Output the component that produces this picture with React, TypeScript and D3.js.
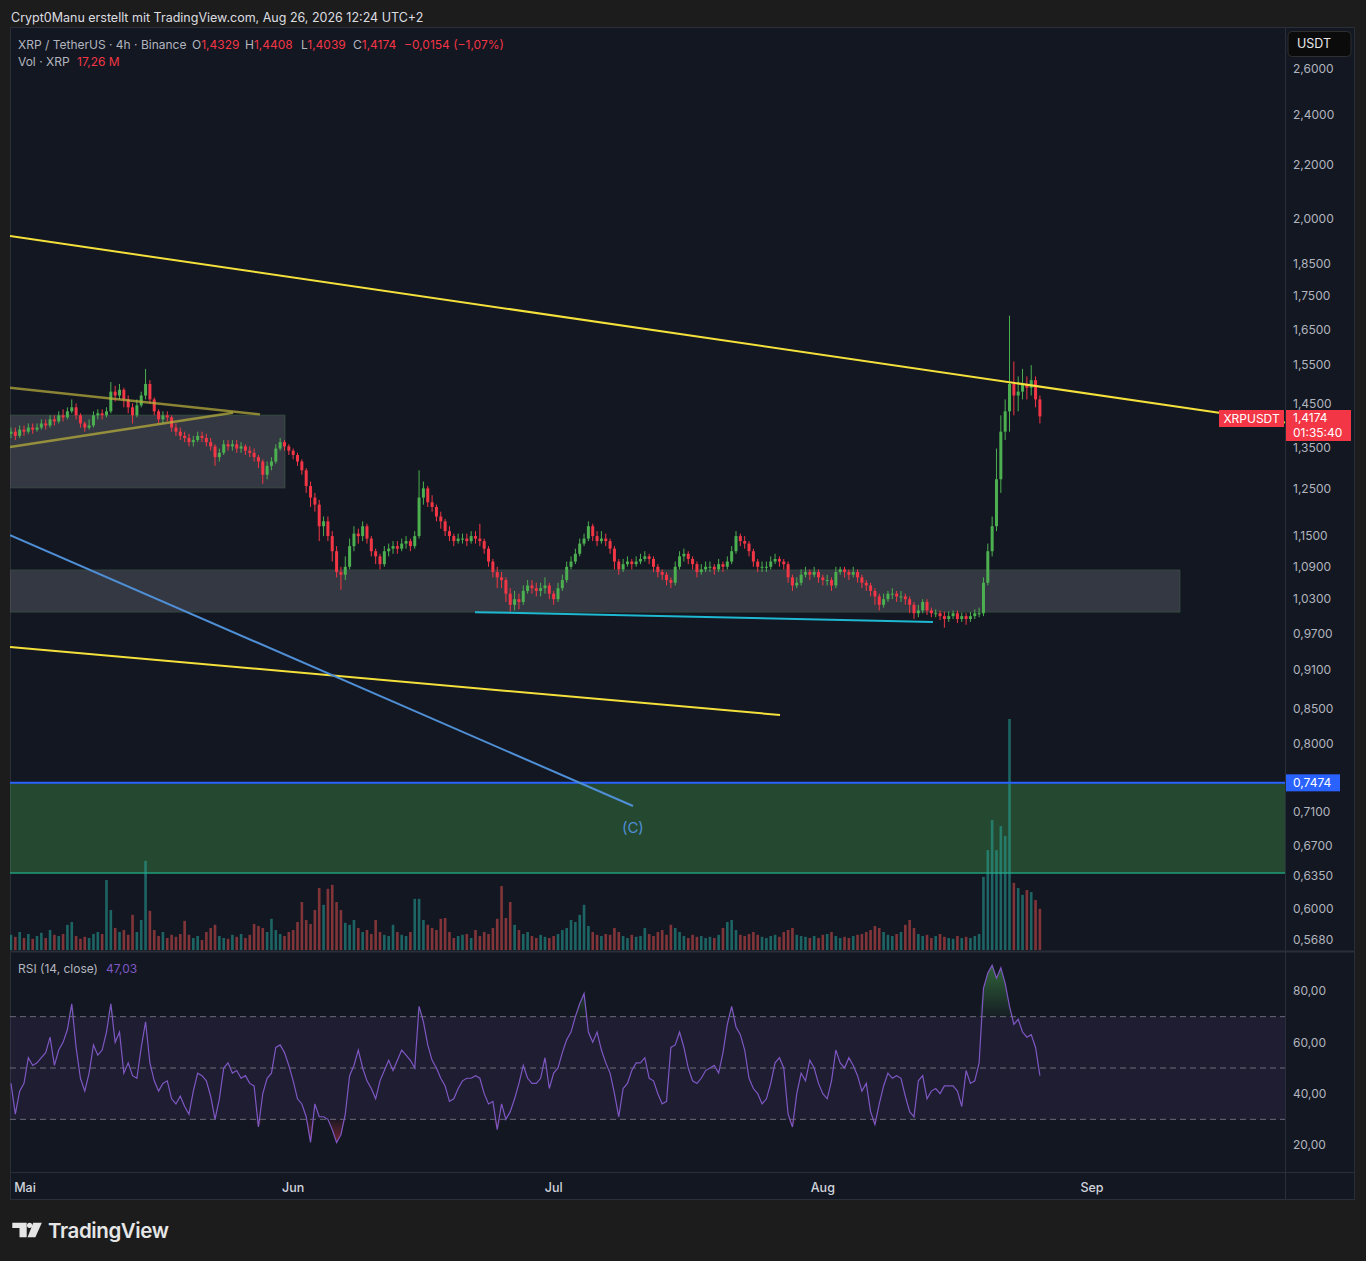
import * as d3 from "d3";
import * as React from "react";

// 12h candles (Apr 29 12:00 UTC .. Aug 26 00:00 UTC)
const closes = [
  1.38, 1.37, 1.385, 1.38, 1.39, 1.385, 1.39, 1.4, 1.395, 1.41,
  1.405, 1.42, 1.415, 1.43, 1.44, 1.42, 1.4, 1.39, 1.395, 1.42,
  1.425, 1.42, 1.43, 1.48, 1.47, 1.485, 1.46, 1.44, 1.42, 1.445,
  1.47, 1.5, 1.46, 1.43, 1.41, 1.42, 1.415, 1.39, 1.38, 1.37,
  1.365, 1.355, 1.36, 1.37, 1.365, 1.355, 1.345, 1.32, 1.33, 1.35,
  1.345, 1.35, 1.34, 1.345, 1.335, 1.33, 1.32, 1.31, 1.28, 1.3,
  1.31, 1.34, 1.355, 1.345, 1.335, 1.325, 1.31, 1.29, 1.255, 1.23,
  1.215, 1.17, 1.18, 1.15, 1.12, 1.08, 1.075, 1.09, 1.13, 1.155,
  1.15, 1.17, 1.145, 1.12, 1.11, 1.095, 1.12, 1.125, 1.13, 1.125,
  1.135, 1.14, 1.13, 1.15, 1.23, 1.25, 1.22, 1.21, 1.19, 1.18,
  1.16, 1.15, 1.14, 1.145, 1.145, 1.14, 1.15, 1.145, 1.14, 1.125,
  1.1, 1.08, 1.07, 1.065, 1.04, 1.02, 1.03, 1.025, 1.045, 1.055,
  1.05, 1.045, 1.05, 1.055, 1.04, 1.03, 1.05, 1.065, 1.09, 1.1,
  1.115, 1.135, 1.145, 1.17, 1.15, 1.14, 1.145, 1.14, 1.125, 1.1,
  1.085, 1.095, 1.1, 1.095, 1.1, 1.105, 1.11, 1.105, 1.09, 1.08,
  1.075, 1.065, 1.06, 1.09, 1.11, 1.115, 1.105, 1.095, 1.08, 1.085,
  1.09, 1.09, 1.085, 1.095, 1.09, 1.1, 1.12, 1.15, 1.14, 1.135,
  1.12, 1.1, 1.09, 1.09, 1.09, 1.1, 1.105, 1.1, 1.095, 1.07,
  1.055, 1.06, 1.075, 1.08, 1.075, 1.08, 1.07, 1.065, 1.065, 1.055,
  1.08, 1.085, 1.08, 1.075, 1.08, 1.07, 1.06, 1.055, 1.045, 1.035,
  1.02, 1.03, 1.04, 1.04, 1.035, 1.035, 1.03, 1.02, 1.005, 1.01,
  1.025, 1.01, 1.005, 1.005, 1.0, 0.995, 1.0, 1.005, 0.995, 1.0,
  0.995, 1.0, 1.005, 1.005, 1.06, 1.12, 1.17, 1.27, 1.38, 1.43,
  1.5, 1.47, 1.48, 1.5, 1.49, 1.51, 1.46, 1.4174,
];

const highs = [
  1.39, 1.39, 1.395, 1.395, 1.4, 1.4, 1.4, 1.41, 1.41, 1.42,
  1.42, 1.43, 1.435, 1.44, 1.46, 1.45, 1.425, 1.405, 1.41, 1.43,
  1.435, 1.435, 1.44, 1.505, 1.495, 1.5, 1.49, 1.47, 1.45, 1.46,
  1.48, 1.54, 1.51, 1.465, 1.435, 1.43, 1.43, 1.42, 1.4, 1.39,
  1.38, 1.375, 1.37, 1.38, 1.38, 1.375, 1.365, 1.35, 1.34, 1.36,
  1.36, 1.36, 1.36, 1.355, 1.35, 1.345, 1.34, 1.325, 1.315, 1.31,
  1.32, 1.35, 1.365, 1.36, 1.35, 1.34, 1.33, 1.315, 1.295, 1.265,
  1.24, 1.225, 1.19, 1.19, 1.16, 1.13, 1.09, 1.11, 1.145, 1.17,
  1.165, 1.18, 1.175, 1.15, 1.125, 1.115, 1.13, 1.135, 1.14, 1.14,
  1.145, 1.15, 1.145, 1.16, 1.29, 1.265, 1.255, 1.235, 1.215, 1.2,
  1.185, 1.17, 1.155, 1.155, 1.155, 1.155, 1.16, 1.16, 1.175, 1.145,
  1.13, 1.105, 1.09, 1.08, 1.07, 1.05, 1.045, 1.04, 1.055, 1.065,
  1.065, 1.06, 1.06, 1.07, 1.06, 1.045, 1.06, 1.075, 1.1, 1.11,
  1.125, 1.145, 1.155, 1.18, 1.175, 1.16, 1.16, 1.155, 1.145, 1.13,
  1.105, 1.105, 1.11, 1.105, 1.11, 1.115, 1.12, 1.115, 1.11, 1.095,
  1.085, 1.08, 1.07, 1.1, 1.12, 1.125, 1.12, 1.11, 1.1, 1.095,
  1.1, 1.1, 1.095, 1.105, 1.1, 1.11, 1.13, 1.16, 1.155, 1.15,
  1.14, 1.125, 1.105, 1.1, 1.1, 1.11, 1.115, 1.11, 1.105, 1.1,
  1.075, 1.07, 1.085, 1.09, 1.085, 1.09, 1.085, 1.075, 1.075, 1.07,
  1.09, 1.09, 1.09, 1.085, 1.09, 1.085, 1.075, 1.065, 1.06, 1.05,
  1.04, 1.04, 1.045, 1.05, 1.045, 1.045, 1.04, 1.035, 1.025, 1.02,
  1.03, 1.03, 1.015, 1.012, 1.01, 1.008, 1.008, 1.01, 1.01, 1.006,
  1.005, 1.007, 1.012, 1.015, 1.07, 1.135, 1.19, 1.34, 1.42, 1.46,
  1.69, 1.56, 1.52, 1.54, 1.52, 1.55, 1.52, 1.47,
];

const lows = [
  1.365, 1.36, 1.365, 1.37, 1.375, 1.375, 1.38, 1.385, 1.385, 1.39,
  1.395, 1.4, 1.405, 1.41, 1.425, 1.41, 1.39, 1.38, 1.385, 1.39,
  1.41, 1.41, 1.415, 1.425, 1.455, 1.46, 1.44, 1.425, 1.4, 1.415,
  1.44, 1.46, 1.45, 1.42, 1.4, 1.4, 1.405, 1.38, 1.37, 1.36,
  1.355, 1.345, 1.345, 1.355, 1.355, 1.345, 1.335, 1.3, 1.31, 1.325,
  1.335, 1.335, 1.33, 1.33, 1.325, 1.32, 1.31, 1.295, 1.26, 1.27,
  1.29, 1.305, 1.335, 1.335, 1.325, 1.315, 1.3, 1.28, 1.24, 1.21,
  1.2, 1.14, 1.15, 1.14, 1.1, 1.07, 1.047, 1.065, 1.085, 1.12,
  1.135, 1.14, 1.135, 1.11, 1.095, 1.085, 1.09, 1.11, 1.115, 1.115,
  1.12, 1.125, 1.12, 1.125, 1.145, 1.215, 1.21, 1.2, 1.18, 1.165,
  1.15, 1.14, 1.13, 1.135, 1.135, 1.13, 1.135, 1.135, 1.13, 1.115,
  1.09, 1.07, 1.05, 1.05, 1.025, 1.008, 1.01, 1.012, 1.02, 1.04,
  1.04, 1.035, 1.035, 1.04, 1.03, 1.02, 1.025, 1.045, 1.06, 1.085,
  1.095, 1.11, 1.13, 1.14, 1.14, 1.13, 1.135, 1.13, 1.115, 1.085,
  1.075, 1.08, 1.09, 1.085, 1.09, 1.095, 1.1, 1.095, 1.08, 1.07,
  1.065, 1.055, 1.05, 1.055, 1.085, 1.1, 1.095, 1.085, 1.07, 1.075,
  1.08, 1.08, 1.075, 1.08, 1.08, 1.085, 1.095, 1.115, 1.13, 1.125,
  1.11, 1.09, 1.08, 1.08, 1.08, 1.085, 1.095, 1.09, 1.085, 1.06,
  1.045, 1.05, 1.055, 1.07, 1.065, 1.07, 1.06, 1.055, 1.055, 1.045,
  1.05, 1.075, 1.07, 1.065, 1.07, 1.06, 1.05, 1.045, 1.035, 1.02,
  1.01, 1.015, 1.025, 1.03, 1.025, 1.025, 1.02, 1.005, 0.995, 0.998,
  1.005, 1.002, 0.998, 0.998, 0.993, 0.98, 0.99, 0.995, 0.988, 0.99,
  0.985, 0.99, 0.995, 0.998, 1.0, 1.055, 1.11, 1.16, 1.24, 1.36,
  1.38, 1.42, 1.43, 1.46, 1.46, 1.47, 1.44, 1.4,
];

// volume in M XRP
const volumes = [
  38, 33, 45, 30, 40, 28, 35, 43, 30, 50,
  38, 35, 40, 63, 70, 35, 28, 33, 30, 40,
  45, 40, 175, 100, 55, 45, 50, 38, 88, 45,
  75, 223, 98, 50, 35, 45, 30, 38, 33, 40,
  73, 38, 30, 35, 25, 45, 55, 63, 35, 30,
  28, 38, 33, 40, 30, 38, 65, 60, 55, 45,
  78, 50, 40, 35, 45, 50, 70, 120, 75, 65,
  100, 155, 113, 153, 163, 120, 100, 68, 63, 75,
  55, 45, 50, 40, 75, 45, 38, 35, 63, 45,
  38, 35, 45, 128, 128, 75, 63, 55, 50, 78,
  80, 45, 30, 35, 38, 40, 30, 50, 35, 45,
  40, 55, 78, 160, 80, 120, 63, 50, 40, 45,
  35, 30, 38, 33, 30, 35, 40, 50, 55, 75,
  70, 88, 113, 60, 45, 38, 35, 40, 38, 55,
  45, 35, 30, 38, 33, 35, 55, 40, 35, 45,
  50, 38, 63, 55, 45, 35, 30, 38, 33, 35,
  30, 33, 30, 38, 55, 70, 75, 50, 38, 35,
  40, 45, 38, 33, 30, 35, 38, 33, 45, 50,
  55, 38, 35, 33, 30, 35, 30, 38, 40, 45,
  35, 30, 33, 30, 35, 38, 40, 45, 50, 60,
  55, 45, 38, 35, 40, 45, 63, 75, 55, 40,
  35, 38, 30, 35, 40, 33, 30, 28, 35, 30,
  33, 30, 35, 40, 183, 250, 325, 250, 310, 285,
  578, 168, 155, 138, 150, 145, 125, 103,
];

const rsiValues = [
  44, 32, 41, 44, 54, 51, 52, 54, 56, 62,
  51, 57, 60, 65, 75, 58, 46, 41, 48, 59,
  55, 57, 64, 75, 60, 64, 48, 52, 47, 46,
  58, 68, 52, 45, 41, 44, 45, 38, 36, 39,
  35, 32, 41, 48, 47, 45, 39, 30, 38, 50,
  52, 48, 49, 46, 47, 44, 43, 27, 40, 46,
  48, 58, 59, 56, 51, 45, 38, 36, 31, 21,
  36, 31, 31, 30, 26, 21, 24, 32, 47, 51,
  57, 50, 45, 42, 38, 45, 49, 53, 49, 53,
  57, 55, 53, 50, 74, 68, 59, 53, 50, 46,
  43, 37, 38, 42, 45, 46, 46, 47, 46, 40,
  36, 37, 26, 36, 30, 33, 38, 44, 51, 46,
  44, 44, 46, 54, 42, 48, 50, 56, 61, 64,
  70, 75, 79, 64, 60, 64, 57, 52, 48, 40,
  31, 42, 44, 49, 52, 52, 54, 46, 45, 40,
  36, 37, 58, 59, 64, 58, 50, 45, 44, 46,
  49, 50, 51, 48, 56, 67, 74, 66, 63, 57,
  46, 42, 40, 36, 38, 44, 52, 54, 50, 32,
  27, 40, 48, 45, 53, 50, 44, 40, 38, 45,
  57, 52, 50, 54, 51, 47, 41, 44, 33, 28,
  36, 43, 48, 46, 47, 46, 39, 33, 31, 45,
  47, 38, 41, 42, 40, 43, 43, 43, 41, 35,
  49, 44, 45, 52, 81, 87, 90, 85, 89, 83,
  74, 67, 69, 64, 62, 63, 58, 47,
];

const FIRST_OPEN = 1.375;
const LAST_RSI = 47.03;
const priceTicks = [2.6, 2.4, 2.2, 2.0, 1.85, 1.75, 1.65, 1.55, 1.45, 1.35, 1.25, 1.15, 1.09, 1.03, 0.97, 0.91, 0.85, 0.8, 0.71, 0.67, 0.635, 0.6, 0.568];
const rsiTicks = [80, 60, 40, 20];
const rsiLevels = [70, 50, 30];
const monthLabels = ["Mai", "Jun", "Jul", "Aug", "Sep"];
const monthStarts = [Date.UTC(2026, 4, 1), Date.UTC(2026, 5, 1), Date.UTC(2026, 6, 1), Date.UTC(2026, 7, 1), Date.UTC(2026, 8, 1)];

// drawings: [time, price] anchors
const trendLines = [
  { a: [Date.UTC(2026, 3, 29, 9, 20), 1.942], b: [Date.UTC(2026, 8, 23, 5, 20), 1.4025], color: "#f5e13b", w: 2 },
  { a: [Date.UTC(2026, 3, 29, 9, 20), 0.9475], b: [Date.UTC(2026, 6, 27, 1, 40), 0.8414], color: "#f5e13b", w: 2 },
  { a: [Date.UTC(2026, 3, 29, 9, 20), 1.152], b: [Date.UTC(2026, 6, 10, 3, 20), 0.7178], color: "#4f8fd6", w: 2 },
  { a: [Date.UTC(2026, 3, 29, 9, 20), 1.49], b: [Date.UTC(2026, 4, 28, 4, 20), 1.4224], color: "rgba(190,180,60,0.7)", w: 2.5 },
  { a: [Date.UTC(2026, 3, 29, 9, 20), 1.3436], b: [Date.UTC(2026, 4, 25, 1, 40), 1.4266], color: "rgba(190,180,60,0.7)", w: 2.5 },
  { a: [Date.UTC(2026, 5, 21, 22, 30), 1.007], b: [Date.UTC(2026, 7, 13, 16, 30), 0.99], color: "#1fb8d1", w: 2 },
];
const greyZones = [
  { t0: Date.UTC(2026, 3, 29), t1: Date.UTC(2026, 4, 31, 1, 25), p0: 1.4206, p1: 1.2509 },
  { t0: Date.UTC(2026, 3, 29), t1: Date.UTC(2026, 8, 11, 3, 10), p0: 1.084, p1: 1.007 },
];
const GREEN_TOP = 0.7474;
const GREEN_BOTTOM = 0.6386;
const WAVE_LABEL = { t: Date.UTC(2026, 6, 10, 3), p: 0.6908, text: "(C)" };

const FONT = "Inter, Roboto, 'Noto Sans', sans-serif";
const fmtPrice = (v: number) => d3.format(".4f")(v).replace(".", ",");
const fmtRsi = (v: number) => d3.format(".2f")(v).replace(".", ",");

export default function App() {
  const L = 10, R = 1285, T = 28, mainB = 951, rsiB = 1172, axisB = 1200, panelR = 1355;
  const UP = "#4caf50", DOWN = "#f23645";

  const x = d3.scaleUtc().domain([monthStarts[0], monthStarts[4]]).range([24, 1092]);
  const y = d3.scaleLog().domain([0.568, 2.6]).range([940, 69]);
  const yVol = d3.scaleLinear().domain([0, d3.max(volumes) as number]).range([950, 719]);
  const yRsi = d3.scaleLinear().domain([20, 80]).range([1145, 991]);

  const start = Date.UTC(2026, 3, 29, 12);
  const step = 12 * 3600 * 1000;
  const candles = closes.map((c, i) => ({
    t: start + i * step,
    o: i ? closes[i - 1] : FIRST_OPEN,
    h: highs[i],
    l: lows[i],
    c,
    v: volumes[i],
    r: rsiValues[i],
  }));

  const bw = 3;
  const vw = 2.6;
  const rsiLine = d3.line<any>().x((d) => x(d.t)).y((d) => yRsi(d.r));
  const obArea = d3.area<any>().x((d) => x(d.t)).y0(yRsi(70)).y1((d) => yRsi(Math.max(d.r, 70)));
  const osArea = d3.area<any>().x((d) => x(d.t)).y0(yRsi(30)).y1((d) => yRsi(Math.min(d.r, 30)));

  const last = candles[candles.length - 1];
  const lastBoxTop = 410, lastBoxH = 31;
  // tick label position: pushed just past the last-price tag when it would sit under it
  const tickY = (p: number) => {
    const v = y(p);
    if (v + 6 > lastBoxTop && v - 6 < lastBoxTop + lastBoxH) {
      return v > lastBoxTop + lastBoxH / 2 ? lastBoxTop + lastBoxH + 6.5 : lastBoxTop - 6.5;
    }
    return v;
  };

  return (
    <svg width={1366} height={1261} style={{ position: "absolute", left: 0, top: 0, fontFamily: FONT }}>
      <defs>
        <clipPath id="mainClip">
          <rect x={L} y={T} width={R - L} height={mainB - T} />
        </clipPath>
        <clipPath id="rsiClip">
          <rect x={L} y={mainB + 1} width={R - L} height={rsiB - mainB - 1} />
        </clipPath>
        <clipPath id="axisClip">
          <rect x={R} y={T} width={panelR - R} height={mainB - T} />
        </clipPath>
        <linearGradient id="obGrad" gradientUnits="userSpaceOnUse" x1="0" x2="0" y1={yRsi(92)} y2={yRsi(70)}>
          <stop offset="0" stopColor="#4caf50" stopOpacity="0.55" />
          <stop offset="1" stopColor="#4caf50" stopOpacity="0.05" />
        </linearGradient>
        <linearGradient id="osGrad" gradientUnits="userSpaceOnUse" x1="0" x2="0" y1={yRsi(30)} y2={yRsi(18)}>
          <stop offset="0" stopColor="#f23645" stopOpacity="0.05" />
          <stop offset="1" stopColor="#f23645" stopOpacity="0.55" />
        </linearGradient>
      </defs>

      {/* page + panel */}
      <rect width={1366} height={1261} fill="#1c1c1d" />
      <text x={11} y={21.5} fill="#dcdde0" fontSize={12.5}>
        Crypt0Manu erstellt mit TradingView.com, Aug 26, 2026 12:24 UTC+2
      </text>
      <rect x={L + 0.5} y={T - 0.5} width={panelR - L - 1} height={axisB - T} fill="#131722" stroke="#2a2e39" />

      {/* main pane */}
      <g clipPath="url(#mainClip)">
        <rect x={L} y={y(GREEN_TOP)} width={R - L} height={y(GREEN_BOTTOM) - y(GREEN_TOP)} fill="rgba(76,175,80,0.33)" />
        <line x1={L} x2={R} y1={y(GREEN_BOTTOM)} y2={y(GREEN_BOTTOM)} stroke="#1f9e7a" strokeWidth={1.5} />
        {greyZones.map((z, i) => (
          <rect key={"z" + i} x={x(z.t0)} y={y(z.p0)} width={x(z.t1) - x(z.t0)} height={y(z.p1) - y(z.p0)}
            fill="rgba(120,123,134,0.33)" stroke="rgba(60,90,70,0.6)" />
        ))}
        {candles.map((d, i) => (
          <rect key={"v" + i} x={x(d.t) - vw / 2} y={yVol(d.v)} width={vw} height={950 - yVol(d.v)}
            fill={d.c >= d.o ? "rgba(38,166,154,0.55)" : "rgba(239,83,80,0.5)"} />
        ))}
        {candles.map((d, i) => {
          const col = d.c >= d.o ? UP : DOWN;
          const top = y(Math.max(d.o, d.c));
          const bot = y(Math.min(d.o, d.c));
          return (
            <g key={"c" + i}>
              <line x1={x(d.t)} x2={x(d.t)} y1={y(d.h)} y2={y(d.l)} stroke={col} strokeWidth={1} />
              <rect x={x(d.t) - bw / 2} y={top} width={bw} height={Math.max(1, bot - top)} fill={col} />
            </g>
          );
        })}
        <line x1={L} x2={R} y1={y(GREEN_TOP)} y2={y(GREEN_TOP)} stroke="#2962ff" strokeWidth={2} />
        {trendLines.map((l, i) => (
          <line key={"t" + i} x1={x(l.a[0])} y1={y(l.a[1])} x2={x(l.b[0])} y2={y(l.b[1])} stroke={l.color} strokeWidth={l.w} />
        ))}
        <text x={x(WAVE_LABEL.t)} y={y(WAVE_LABEL.p)} dy="0.35em" textAnchor="middle" fill="#4f8fd6" fontSize={15}>
          {WAVE_LABEL.text}
        </text>
      </g>

      {/* legend */}
      <text x={18} y={48.5} fontSize={12} fill="#b2b5be">
        <tspan>XRP / TetherUS · 4h · Binance</tspan>
        <tspan x={192}>O</tspan><tspan fill="#f23645">1,4329</tspan>
        <tspan x={245}>H</tspan><tspan fill="#f23645">1,4408</tspan>
        <tspan x={301}>L</tspan><tspan fill="#f23645">1,4039</tspan>
        <tspan x={353}>C</tspan><tspan fill="#f23645">1,4174</tspan>
        <tspan x={404} fill="#f23645">−0,0154 (−1,07%)</tspan>
      </text>
      <text x={18} y={65.5} fontSize={12} fill="#b2b5be">
        <tspan>Vol · XRP</tspan>
        <tspan x={77} fill="#f23645">17,26 M</tspan>
      </text>

      {/* price axis */}
      <g clipPath="url(#axisClip)">
        {priceTicks.map((p) => (
          <text key={p} x={1293} y={tickY(p)} dy="0.35em" fontSize={12} fill="#b2b5be">{fmtPrice(p)}</text>
        ))}
      </g>
      <rect x={1288} y={31.5} width={63} height={25} rx={4} fill="#0b0b0c" stroke="#2e2e30" />
      <text x={1297} y={44} dy="0.35em" fontSize={12.5} fill="#e8e8ea">USDT</text>

      <rect x={R} y={y(GREEN_TOP) - 8.5} width={55} height={17} fill="#2962ff" />
      <text x={1293} y={y(GREEN_TOP)} dy="0.35em" fontSize={12} fill="#ffffff">{fmtPrice(GREEN_TOP)}</text>

      <rect x={1219} y={lastBoxTop} width={65} height={17} fill="#f23645" />
      <text x={1251.5} y={418.5} dy="0.35em" textAnchor="middle" fontSize={12} fill="#ffffff">XRPUSDT</text>
      <rect x={R} y={lastBoxTop} width={66} height={lastBoxH} fill="#f23645" />
      <text x={1293} y={418} dy="0.35em" fontSize={12} fill="#ffffff">{fmtPrice(last.c)}</text>
      <text x={1293} y={432.5} dy="0.35em" fontSize={12} fill="#ffffff">01:35:40</text>

      {/* RSI pane */}
      <g clipPath="url(#rsiClip)">
        <rect x={L} y={yRsi(70)} width={R - L} height={yRsi(30) - yRsi(70)} fill="rgba(126,87,194,0.1)" />
        {rsiLevels.map((v) => (
          <line key={v} x1={L} x2={R} y1={yRsi(v)} y2={yRsi(v)} stroke="#787b86" strokeDasharray="6 4" strokeWidth={1} opacity={0.85} />
        ))}
        <path d={obArea(candles) as string} fill="url(#obGrad)" />
        <path d={osArea(candles) as string} fill="url(#osGrad)" />
        <path d={rsiLine(candles) as string} fill="none" stroke="#7e57c2" strokeWidth={1.2} />
      </g>
      <text x={18} y={973} fontSize={12} fill="#b2b5be">
        <tspan>RSI (14, close)</tspan>
        <tspan x={106} fill="#7e57c2">{fmtRsi(LAST_RSI)}</tspan>
      </text>
      {rsiTicks.map((v) => (
        <text key={v} x={1293} y={yRsi(v)} dy="0.35em" fontSize={12} fill="#b2b5be">{fmtRsi(v)}</text>
      ))}

      {/* separators */}
      <line x1={L} x2={panelR} y1={mainB + 0.5} y2={mainB + 0.5} stroke="#2a2e39" strokeWidth={2} />
      <line x1={L} x2={panelR} y1={rsiB + 0.5} y2={rsiB + 0.5} stroke="#2a2e39" />
      <line x1={R + 0.5} x2={R + 0.5} y1={T} y2={axisB} stroke="#2a2e39" />

      {/* time axis */}
      {monthStarts.map((t, i) => (
        <text key={t} x={Math.max(x(t), 25)} y={1192} textAnchor="middle" fontSize={12.5} fontWeight={500} fill="#d1d4dc">
          {monthLabels[i]}
        </text>
      ))}

      {/* TradingView logo */}
      <g fill="#e6e6e6">
        <path d="M12.3 1222.7 H26.7 V1237.3 H19.5 V1228 H12.3 Z" />
        <circle cx={29.6} cy={1225.3} r={2.6} />
        <path d="M33.2 1222.7 H41.8 L35.4 1237.3 H27.6 Z" />
        <text x={48} y={1237.5} fontSize={20.5} fontWeight={600} letterSpacing={-0.4}>TradingView</text>
      </g>
    </svg>
  );
}
